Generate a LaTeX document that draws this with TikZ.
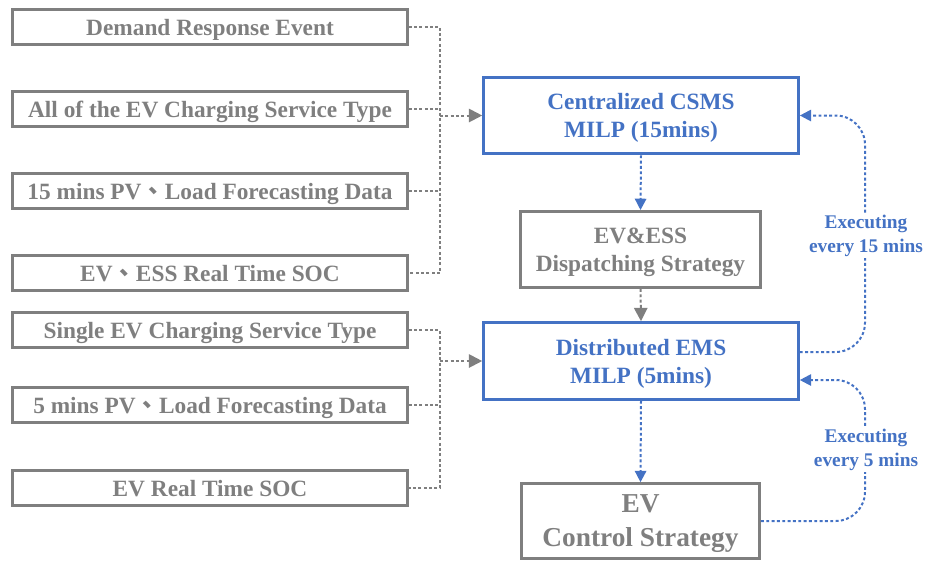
\documentclass[tikz,border=0pt]{standalone}
\usepackage{fontspec}
\setmainfont{Liberation Serif}
\newfontfamily\cjk{Noto Sans CJK TC}
\usetikzlibrary{arrows.meta,calc}
\definecolor{gr}{HTML}{7F7F7F}
\definecolor{bl}{HTML}{4472C4}
\begin{document}
\begin{tikzpicture}[x=0.75pt,y=-0.75pt,
  inbox/.style={draw=gr,line width=2.2pt,minimum width=296pt,minimum height=26.5pt,inner sep=0pt,text depth=0pt,
    text=gr,font=\fontsize{17.5}{21}\selectfont\bfseries},
  mainbox/.style={draw=bl,line width=2.2pt,minimum width=236pt,minimum height=57.5pt,inner sep=0pt,text depth=0pt,
    text=bl,align=center,font=\fontsize{17.5}{21}\selectfont\bfseries},
  graybox/.style={draw=gr,line width=2.2pt,inner sep=0pt,text depth=0pt,text=gr,align=center},
  gdot/.style={draw=gr,line width=1.5pt,dash pattern=on 2.2pt off 1.8pt},
  bdot/.style={draw=bl,line width=1.5pt,dash pattern=on 2.2pt off 1.8pt},
  tipg/.style={-{Triangle[length=10pt,width=10pt]}},
  tipb/.style={-{Triangle[length=8.5pt,width=8.5pt]}},
  lbl/.style={fill=white,text=bl,align=center,inner sep=1pt,font=\fontsize{14.5}{18}\selectfont\bfseries}]
\useasboundingbox (0,0) rectangle (925,562);
% input boxes
\node[inbox] (b1) at (210,27) {Demand Response Event};
\node[inbox] (b2) at (210,109) {All of the EV Charging Service Type};
\node[inbox] (b3) at (210,191) {15 mins PV{\cjk 、}Load Forecasting Data};
\node[inbox] (b4) at (210,273) {EV{\cjk 、}ESS Real Time SOC};
\node[inbox] (b5) at (210,330) {Single EV Charging Service Type};
\node[inbox] (b6) at (210,405) {5 mins PV{\cjk 、}Load Forecasting Data};
\node[inbox] (b7) at (210,488) {EV Real Time SOC};
% main column
\node[mainbox] (csms) at (641,115.5) {Centralized CSMS\\MILP (15mins)};
\node[graybox,minimum width=180pt,minimum height=57pt,font=\fontsize{17.5}{21}\selectfont\bfseries] (ess) at (640.5,249.5) {EV\&ESS\\Dispatching Strategy};
\node[mainbox] (ems) at (641,361) {Distributed EMS\\MILP (5mins)};
\node[graybox,minimum width=178.5pt,minimum height=56pt,font=\fontsize{20.5}{25.5}\selectfont\bfseries] (evc) at (640.5,521) {EV\\Control Strategy};
% junctions
\coordinate (j1) at (440,115.5);
\coordinate (j2) at (440,361);
\draw[gdot] (b1.east) -- (b1.east -| j1) -- (b4.east -| j1) -- (b4.east);
\draw[gdot] (b2.east) -- (b2.east -| j1);
\draw[gdot] (b3.east) -- (b3.east -| j1);
\draw[gdot,tipg] (j1) -- (csms.west);
\draw[gdot] (b5.east) -- (b5.east -| j2) -- (b7.east -| j2) -- (b7.east);
\draw[gdot] (b6.east) -- (b6.east -| j2);
\draw[gdot,tipg] (j2) -- (ems.west);
% vertical flow
\draw[bdot,tipb] (csms.south) -- (ess.north);
\draw[gdot,tipg] (ess.south) -- (ems.north);
\draw[bdot,tipb] (ems.south) -- (evc.north);
% loops
\coordinate (r1) at (865,115.5);
\coordinate (r2) at (865,380);
\draw[bdot,tipb,rounded corners=22pt] ([yshift=6.75pt]ems.east) -| (r1) -- (csms.east);
\draw[bdot,tipb,rounded corners=22pt] (evc.east) -| (r2) -- ([yshift=-14.25pt]ems.east);
\node[lbl] (l1) at (866,236) {Executing\\every 15 mins};
\node[lbl] (l2) at (866,450) {Executing\\every 5 mins};
\end{tikzpicture}
\end{document}
